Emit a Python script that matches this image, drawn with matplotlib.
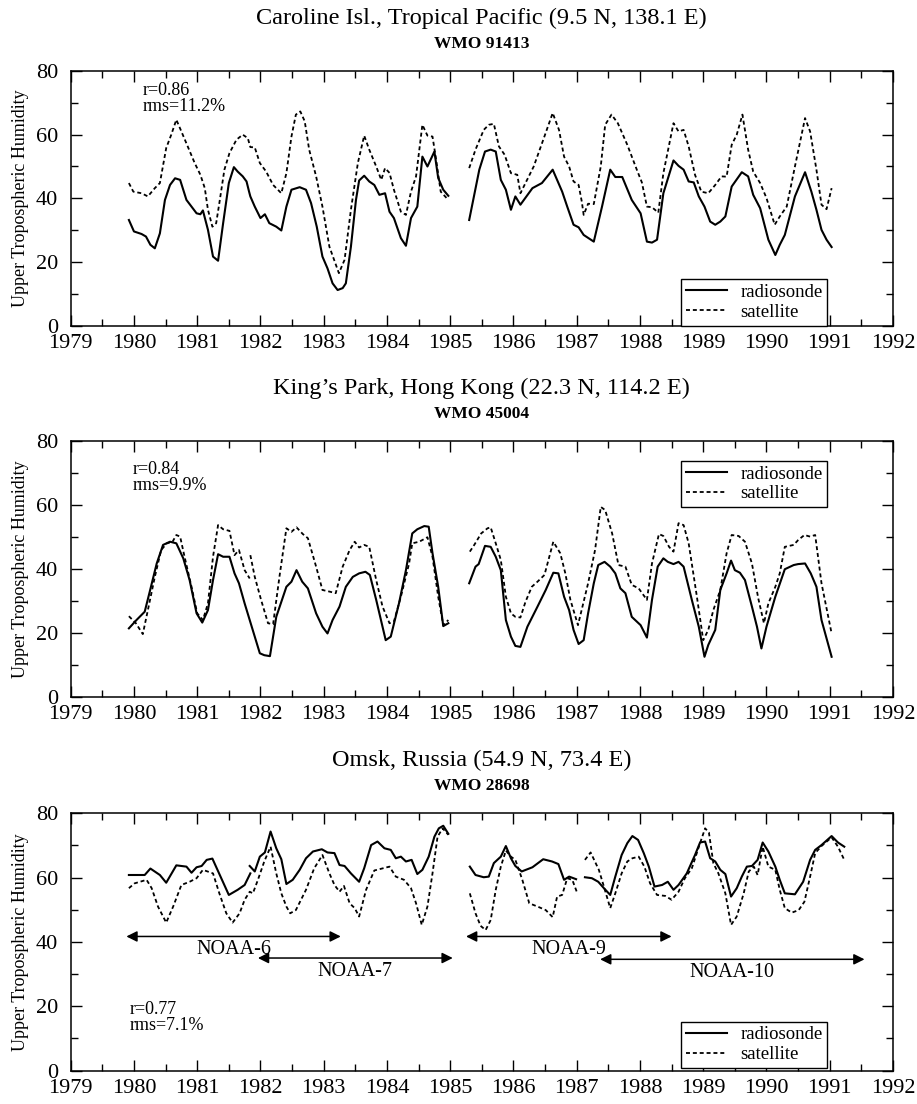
import numpy as np
import matplotlib.pyplot as plt
from matplotlib.ticker import MultipleLocator

plt.rcParams['font.family'] = ['Liberation Serif', 'DejaVu Serif']
nan = np.nan

# ---- Caroline Isl. (WMO 91413) ----
cr_rad_t = [1979.92, 1980.00, 1980.12, 1980.19, 1980.26, 1980.33, 1980.41, 1980.49, 1980.57, 1980.65,
            1980.73, 1980.83, 1980.91, 1980.99, 1981.05, 1981.09, 1981.17, 1981.25, 1981.33, 1981.41,
            1981.50, 1981.58, 1981.64, 1981.72, 1981.78, 1981.82, 1981.84, 1981.91, 1982.00, 1982.07,
            1982.14, 1982.25, 1982.33, 1982.41, 1982.49, 1982.62, 1982.72, 1982.80, 1982.89, 1982.98,
            1983.06, 1983.14, 1983.22, 1983.30, 1983.35, 1983.43, 1983.51, 1983.56, 1983.64, 1983.72,
            1983.80, 1983.88, 1983.97, 1984.04, 1984.11, 1984.22, 1984.30, 1984.38, 1984.48, 1984.56,
            1984.64, 1984.75, 1984.81, 1984.89, 1984.97, 1985.10,
            1985.30, 1985.46, 1985.55, 1985.64, 1985.72, 1985.80, 1985.88, 1985.96, 1986.03, 1986.11,
            1986.30, 1986.45, 1986.62, 1986.77, 1986.85, 1986.95, 1987.03, 1987.11, 1987.27, 1987.40,
            1987.53, 1987.61, 1987.72, 1987.87, 1988.01, 1988.11, 1988.19, 1988.27, 1988.37, 1988.53,
            1988.61, 1988.69, 1988.77, 1988.85, 1988.93, 1989.02, 1989.11, 1989.19, 1989.27, 1989.35,
            1989.45, 1989.61, 1989.71, 1989.79, 1989.90, 1990.03, 1990.14, 1990.21, 1990.29, 1990.45,
            1990.61, 1990.71, 1990.79, 1990.87, 1990.95, 1991.03]
cr_rad_v = [33.2, 29.6, 28.8, 28.0, 25.4, 24.3, 29.0, 39.5, 44.2, 46.3,
            45.8, 39.5, 37.4, 35.3, 35.0, 36.2, 30.1, 21.7, 20.4, 32.2,
            44.8, 49.8, 48.4, 46.9, 45.3, 42.1, 40.6, 37.4, 33.8, 35.0,
            32.2, 31.1, 29.9, 37.4, 42.7, 43.5, 42.7, 38.5, 31.1, 21.7,
            18.0, 13.3, 11.2, 11.8, 13.3, 24.8, 39.5, 45.6, 47.1, 45.3,
            44.2, 41.1, 41.6, 35.8, 33.8, 27.5, 25.1, 33.8, 37.4, 53.1,
            50.0, 54.7, 46.4, 42.7, 40.8, nan,
            33.2, 49.0, 54.7, 55.3, 54.7, 45.8, 42.7, 36.4, 40.6, 38.0,
            43.2, 44.8, 49.0, 42.1, 37.4, 31.7, 30.9, 28.5, 26.4, 37.4,
            49.0, 46.7, 46.7, 39.5, 35.3, 26.4, 26.1, 27.0, 41.6, 51.9,
            50.2, 49.0, 45.3, 45.0, 40.6, 37.4, 32.7, 31.7, 32.7, 34.3,
            43.7, 48.2, 46.9, 41.1, 36.9, 27.0, 22.2, 25.4, 28.5, 40.6,
            48.2, 42.1, 36.4, 30.1, 27.0, 24.7]
cr_sat_t = [1979.92, 1979.99, 1980.12, 1980.22, 1980.33, 1980.41, 1980.51, 1980.59, 1980.67, 1980.75,
            1980.85, 1980.96, 1981.05, 1981.12, 1981.17, 1981.24, 1981.30, 1981.35, 1981.43, 1981.51,
            1981.62, 1981.72, 1981.80, 1981.84, 1981.91, 1981.99, 1982.09, 1982.20, 1982.33, 1982.41,
            1982.49, 1982.56, 1982.63, 1982.70, 1982.77, 1982.88, 1982.98, 1983.09, 1983.24, 1983.33,
            1983.43, 1983.54, 1983.64, 1983.72, 1983.83, 1983.91, 1983.97, 1984.04, 1984.11, 1984.22,
            1984.30, 1984.38, 1984.46, 1984.56, 1984.64, 1984.72, 1984.77, 1984.85, 1984.97, 1985.10,
            1985.30, 1985.40, 1985.53, 1985.61, 1985.69, 1985.77, 1985.86, 1985.96, 1986.06, 1986.11,
            1986.19, 1986.32, 1986.48, 1986.62, 1986.72, 1986.80, 1986.88, 1986.95, 1987.03, 1987.08,
            1987.11, 1987.18, 1987.27, 1987.38, 1987.45, 1987.55, 1987.65, 1987.80, 1987.95, 1988.03,
            1988.11, 1988.19, 1988.29, 1988.37, 1988.53, 1988.61, 1988.69, 1988.77, 1988.87, 1988.97,
            1989.08, 1989.19, 1989.29, 1989.37, 1989.45, 1989.53, 1989.62, 1989.71, 1989.79, 1989.90,
            1990.00, 1990.13, 1990.21, 1990.32, 1990.45, 1990.61, 1990.69, 1990.79, 1990.87, 1990.95,
            1991.03]
cr_sat_v = [44.8, 42.1, 41.6, 40.6, 43.2, 44.8, 55.8, 60.0, 64.7, 61.0,
            56.3, 51.1, 47.4, 43.2, 36.4, 31.1, 32.2, 38.5, 49.0, 54.2,
            58.4, 60.0, 58.9, 56.1, 56.0, 51.1, 48.4, 44.2, 41.6, 47.9,
            59.4, 66.3, 67.3, 64.2, 55.3, 46.9, 37.4, 24.8, 16.5, 20.7,
            36.4, 51.1, 59.7, 55.3, 50.0, 45.8, 49.5, 48.0, 42.7, 35.8,
            34.8, 42.1, 46.9, 63.1, 59.7, 59.4, 53.1, 42.1, 39.5, nan,
            49.5, 55.3, 61.5, 63.1, 63.4, 56.3, 53.7, 47.9, 47.4, 41.6,
            44.8, 50.0, 58.9, 66.8, 61.5, 53.1, 50.0, 45.3, 44.2, 39.0,
            34.8, 38.3, 38.2, 50.0, 63.1, 66.3, 63.6, 56.8, 49.0, 45.0,
            37.4, 37.2, 35.5, 47.9, 63.6, 61.0, 61.5, 56.3, 47.4, 42.1,
            41.6, 44.2, 46.9, 46.8, 56.8, 60.0, 66.3, 55.3, 48.4, 44.8,
            40.1, 31.7, 34.3, 37.4, 50.0, 65.2, 61.0, 49.0, 38.0, 36.6,
            43.2]

# ---- King's Park, Hong Kong (WMO 45004) ----
hk_rad_t = [1979.92, 1980.04, 1980.17, 1980.25, 1980.36, 1980.46, 1980.57, 1980.67, 1980.78, 1980.88,
            1980.99, 1981.08, 1981.17, 1981.25, 1981.33, 1981.41, 1981.51, 1981.59, 1981.66, 1981.75,
            1981.83, 1981.91, 1981.99, 1982.06, 1982.15, 1982.25, 1982.41, 1982.49, 1982.57, 1982.66,
            1982.75, 1982.88, 1982.98, 1983.06, 1983.14, 1983.25, 1983.35, 1983.46, 1983.56, 1983.66,
            1983.73, 1983.83, 1983.98, 1984.06, 1984.19, 1984.30, 1984.40, 1984.48, 1984.59, 1984.66,
            1984.72, 1984.81, 1984.89, 1984.97, 1985.10,
            1985.30, 1985.40, 1985.45, 1985.55, 1985.64, 1985.72, 1985.80, 1985.88, 1985.96, 1986.03,
            1986.11, 1986.22, 1986.38, 1986.51, 1986.63, 1986.71, 1986.80, 1986.88, 1986.95, 1987.03,
            1987.11, 1987.18, 1987.27, 1987.34, 1987.44, 1987.53, 1987.61, 1987.69, 1987.77, 1987.87,
            1988.01, 1988.11, 1988.19, 1988.28, 1988.37, 1988.44, 1988.53, 1988.61, 1988.69, 1988.82,
            1988.93, 1989.02, 1989.08, 1989.19, 1989.27, 1989.37, 1989.44, 1989.50, 1989.58, 1989.66,
            1989.77, 1989.85, 1989.92, 1990.00, 1990.14, 1990.29, 1990.43, 1990.50, 1990.61, 1990.70,
            1990.79, 1990.87, 1991.03]
hk_rad_v = [21.4, 24.0, 26.6, 32.9, 41.7, 47.5, 48.5, 48.0, 43.3, 36.5,
            26.1, 23.2, 27.1, 36.5, 44.6, 43.8, 43.8, 38.6, 35.5, 29.2,
            24.0, 18.8, 13.6, 13.0, 12.7, 25.0, 34.4, 36.0, 39.6, 36.0,
            33.9, 26.1, 21.9, 19.8, 24.0, 28.2, 34.4, 37.5, 38.6, 39.1,
            38.1, 30.3, 17.7, 18.8, 29.2, 39.6, 51.1, 52.4, 53.4, 53.2,
            44.9, 34.4, 22.1, 23.0, nan,
            35.5, 40.7, 41.5, 47.2, 46.9, 43.8, 39.6, 24.0, 18.8, 15.9,
            15.6, 21.9, 28.2, 33.4, 38.8, 38.6, 31.3, 27.1, 20.9, 16.5,
            17.7, 26.1, 35.5, 41.2, 42.2, 40.7, 38.6, 33.9, 32.4, 25.0,
            22.4, 18.5, 30.3, 40.7, 43.3, 42.2, 41.5, 42.2, 40.7, 30.3,
            21.9, 12.5, 16.2, 20.9, 33.4, 38.6, 42.6, 39.6, 38.8, 36.5,
            28.2, 21.9, 15.1, 21.9, 31.3, 39.9, 41.2, 41.5, 41.7, 38.6,
            34.4, 24.0, 12.5]
hk_sat_t = [1979.92, 1980.03, 1980.14, 1980.22, 1980.33, 1980.43, 1980.52, 1980.61, 1980.67, 1980.73,
            1980.80, 1980.91, 1981.00, 1981.09, 1981.17, 1981.25, 1981.33, 1981.41, 1981.51, 1981.59,
            1981.66, 1981.75, 1981.83, 1981.835, 1981.84, 1981.91, 1982.01, 1982.12, 1982.20, 1982.30,
            1982.41, 1982.49, 1982.57, 1982.67, 1982.75, 1982.88, 1982.98, 1983.09, 1983.19, 1983.30,
            1983.41, 1983.49, 1983.56, 1983.64, 1983.72, 1983.83, 1983.93, 1984.04, 1984.11, 1984.22,
            1984.35, 1984.40, 1984.51, 1984.64, 1984.72, 1984.81, 1984.89, 1984.97, 1985.10,
            1985.31, 1985.38, 1985.49, 1985.59, 1985.64, 1985.72, 1985.80, 1985.88, 1985.96, 1986.03,
            1986.11, 1986.19, 1986.29, 1986.38, 1986.49, 1986.63, 1986.74, 1986.82, 1986.90, 1987.02,
            1987.18, 1987.29, 1987.38, 1987.45, 1987.56, 1987.66, 1987.77, 1987.87, 1987.98, 1988.11,
            1988.19, 1988.30, 1988.37, 1988.46, 1988.53, 1988.61, 1988.69, 1988.77, 1988.90, 1989.00,
            1989.08, 1989.16, 1989.27, 1989.37, 1989.45, 1989.56, 1989.66, 1989.77, 1989.87, 1989.96,
            1990.03, 1990.14, 1990.21, 1990.29, 1990.43, 1990.50, 1990.60, 1990.69, 1990.77, 1990.87,
            1991.03]
hk_sat_v = [25.2, 23.0, 19.6, 27.1, 37.5, 45.9, 48.0, 48.5, 50.6, 50.1,
            43.8, 34.4, 26.1, 24.0, 29.2, 43.8, 53.7, 52.4, 51.9, 44.3,
            45.9, 39.6, 37.0, nan, 44.3, 37.5, 30.3, 23.0, 22.7, 37.5,
            52.7, 51.6, 53.0, 50.9, 49.6, 40.7, 33.4, 32.9, 32.4, 40.7,
            45.9, 48.5, 46.7, 47.5, 46.9, 36.5, 28.2, 23.0, 23.5, 31.3,
            41.7, 48.0, 48.5, 49.9, 43.8, 31.3, 22.4, 24.0, nan,
            45.4, 47.5, 51.1, 52.7, 53.0, 48.0, 42.8, 31.3, 26.1, 25.0,
            24.8, 29.7, 34.4, 36.0, 38.1, 48.5, 44.9, 38.6, 30.3, 22.4,
            35.5, 45.9, 59.4, 58.4, 51.1, 41.2, 40.7, 35.0, 33.9, 30.3,
            41.7, 50.9, 50.3, 46.9, 45.4, 54.3, 53.7, 48.0, 31.3, 17.7,
            20.9, 27.1, 33.4, 44.9, 50.6, 50.3, 48.5, 41.7, 30.8, 23.0,
            29.2, 34.4, 38.6, 46.9, 47.5, 49.0, 50.6, 50.1, 50.6, 35.5,
            19.8]

# ---- Omsk, Russia (WMO 28698) ----
om_rad_t = [1979.92, 1980.17, 1980.26, 1980.41, 1980.51, 1980.67, 1980.83, 1980.91, 1980.99, 1981.07,
            1981.15, 1981.24, 1981.50, 1981.64, 1981.75, 1981.84, 1981.835,
            1981.83, 1981.91, 1981.99, 1982.07, 1982.16, 1982.25, 1982.33, 1982.41, 1982.51, 1982.62,
            1982.72, 1982.83, 1982.97, 1983.06, 1983.17, 1983.25, 1983.33, 1983.43, 1983.56, 1983.64,
            1983.75, 1983.85, 1983.96, 1984.06, 1984.14, 1984.22, 1984.30, 1984.39, 1984.48, 1984.56,
            1984.66, 1984.75, 1984.82, 1984.89, 1984.97, 1985.10,
            1985.31, 1985.40, 1985.53, 1985.61, 1985.69, 1985.80, 1985.88, 1985.96, 1986.03, 1986.13,
            1986.30, 1986.47, 1986.61, 1986.71, 1986.80, 1986.88, 1986.99, 1987.06,
            1987.13, 1987.24, 1987.34, 1987.43, 1987.53, 1987.61, 1987.71, 1987.80, 1987.88, 1987.97,
            1988.06, 1988.14, 1988.23, 1988.35, 1988.44, 1988.53, 1988.61, 1988.74, 1988.87, 1988.95,
            1989.03, 1989.11, 1989.19, 1989.27, 1989.35, 1989.44, 1989.53, 1989.61, 1989.69, 1989.77,
            1989.86, 1989.94, 1990.03, 1990.14, 1990.21, 1990.29, 1990.45, 1990.58, 1990.69, 1990.77,
            1990.87, 1991.03, 1991.13, 1991.23]
om_rad_v = [60.8, 60.8, 62.8, 60.8, 58.4, 63.8, 63.4, 61.5, 63.2, 63.6,
            65.5, 65.9, 54.6, 56.2, 57.7, 61.3, nan,
            63.6, 61.9, 66.5, 67.8, 74.3, 69.1, 65.7, 58.0, 59.3, 62.4,
            66.0, 68.1, 68.8, 67.8, 67.6, 63.9, 63.6, 61.3, 58.7, 62.9,
            70.1, 71.2, 69.1, 68.6, 66.0, 66.5, 65.0, 65.5, 61.1, 62.4,
            66.5, 72.7, 75.3, 76.1, 73.6, nan,
            63.4, 60.8, 60.1, 60.3, 64.5, 66.5, 69.8, 66.0, 63.6, 61.9,
            63.2, 65.7, 65.0, 64.2, 59.3, 60.3, 59.5, nan,
            60.1, 59.8, 58.7, 56.7, 54.6, 60.3, 67.0, 70.7, 72.9, 71.7,
            67.6, 63.4, 57.2, 57.7, 58.7, 56.2, 57.7, 61.3, 67.0, 70.9,
            71.2, 66.0, 65.0, 62.4, 61.1, 54.1, 56.7, 60.3, 63.4, 63.6,
            65.5, 70.9, 68.1, 63.4, 59.3, 55.1, 54.8, 58.7, 65.5, 68.6,
            70.1, 72.9, 70.9, 69.6]
om_sat_t = [1979.92, 1980.01, 1980.20, 1980.28, 1980.38, 1980.51, 1980.62, 1980.75, 1980.88, 1980.99,
            1981.09, 1981.25, 1981.35, 1981.46, 1981.56, 1981.67, 1981.75, 1981.83, 1981.88, 1981.96,
            1982.06, 1982.16, 1982.25, 1982.33, 1982.41, 1982.47, 1982.56, 1982.72, 1982.85, 1982.98,
            1983.09, 1983.17, 1983.25, 1983.32, 1983.41, 1983.49, 1983.56, 1983.67, 1983.80, 1984.04,
            1984.14, 1984.27, 1984.38, 1984.46, 1984.55, 1984.64, 1984.72, 1984.80, 1984.88, 1984.97,
            1985.10,
            1985.31, 1985.40, 1985.48, 1985.56, 1985.64, 1985.72, 1985.80, 1985.88, 1985.96, 1986.03,
            1986.14, 1986.25, 1986.38, 1986.51, 1986.62, 1986.69, 1986.77, 1986.85, 1986.93, 1987.01,
            1987.06,
            1987.13, 1987.22, 1987.35, 1987.43, 1987.53, 1987.61, 1987.71, 1987.80, 1987.88, 1987.98,
            1988.07, 1988.16, 1988.27, 1988.40, 1988.50, 1988.61, 1988.71, 1988.82, 1988.95, 1989.03,
            1989.09, 1989.16, 1989.24, 1989.35, 1989.44, 1989.53, 1989.64, 1989.72, 1989.80, 1989.86,
            1989.94, 1990.03, 1990.14, 1990.21, 1990.29, 1990.40, 1990.51, 1990.60, 1990.69, 1990.77,
            1990.87, 1991.03, 1991.13, 1991.23]
om_sat_v = [56.7, 58.2, 59.3, 56.7, 51.0, 46.0, 51.0, 57.7, 58.7, 59.8,
            62.4, 61.3, 55.1, 48.9, 46.0, 48.9, 53.1, 55.6, 55.1, 59.3,
            65.0, 69.6, 61.3, 55.1, 51.0, 48.9, 49.9, 56.2, 62.9, 67.0,
            61.3, 57.7, 55.6, 57.4, 52.0, 50.5, 47.9, 56.2, 62.2, 63.4,
            60.3, 59.3, 56.7, 52.0, 45.3, 51.0, 61.3, 72.7, 75.3, 73.3,
            nan,
            55.1, 48.9, 45.0, 43.7, 46.8, 56.2, 63.4, 68.4, 66.5, 65.5,
            59.3, 52.0, 51.0, 49.9, 47.7, 54.1, 54.6, 59.8, 59.3, 55.1,
            nan,
            65.5, 67.8, 62.4, 57.2, 50.5, 55.1, 61.3, 65.0, 66.0, 66.5,
            63.4, 58.2, 54.6, 54.3, 53.1, 55.6, 59.8, 62.9, 70.7, 75.3,
            74.0, 64.5, 61.3, 55.1, 45.3, 47.9, 55.1, 61.9, 63.4, 60.8,
            69.6, 63.4, 62.4, 56.2, 50.5, 49.1, 49.9, 52.5, 60.3, 67.6,
            69.8, 72.5, 69.6, 65.5]

# satellite periods for Omsk
noaa_names = ["NOAA-6", "NOAA-7", "NOAA-9", "NOAA-10"]
noaa_start = [1979.88, 1981.96, 1985.25, 1987.37]
noaa_end = [1983.27, 1985.04, 1988.50, 1991.55]
noaa_level = [41.7, 35.0, 41.7, 34.6]

titles = ["Caroline Isl., Tropical Pacific (9.5 N, 138.1 E)",
          "King\u2019s Park, Hong Kong (22.3 N, 114.2 E)",
          "Omsk, Russia (54.9 N, 73.4 E)"]
wmo = ["WMO 91413", "WMO 45004", "WMO 28698"]
stats = ["r=0.86\nrms=11.2%", "r=0.84\nrms=9.9%", "r=0.77\nrms=7.1%"]

series = [(cr_rad_t, cr_rad_v, cr_sat_t, cr_sat_v),
          (hk_rad_t, hk_rad_v, hk_sat_t, hk_sat_v),
          (om_rad_t, om_rad_v, om_sat_t, om_sat_v)]

fig = plt.figure(figsize=(9.17, 11.04), dpi=100)
rects = [[0.0771, 0.7050, 0.8967, 0.2307],
         [0.0771, 0.3689, 0.8967, 0.2316],
         [0.0771, 0.0302, 0.8967, 0.2332]]
stat_pos = [(1980.14, 76.5), (1979.98, 73.8), (1979.94, 21.5)]
leg_loc = [("lower right", (0.92, 0.0)), ("upper right", (0.92, 0.923)),
           ("lower right", (0.92, 0.01))]

for i, rect in enumerate(rects):
    ax = fig.add_axes(rect)
    rt, rv, st, sv = series[i]
    ax.plot(rt, rv, color="black", lw=1.5, label="radiosonde")
    ax.plot(st, sv, color="black", lw=1.3, linestyle=(0, (2.2, 1.6)), label="satellite")

    ax.set_xlim(1979, 1992)
    ax.set_ylim(0, 80)
    ax.xaxis.set_major_locator(MultipleLocator(1))
    ax.xaxis.set_minor_locator(MultipleLocator(0.5))
    ax.yaxis.set_major_locator(MultipleLocator(20))
    ax.yaxis.set_minor_locator(MultipleLocator(10))
    ax.tick_params(which="both", direction="in", top=True, right=True, labelsize=16)
    ax.tick_params(axis="x", which="major", pad=6)
    ax.tick_params(axis="y", which="major", pad=9)
    ax.tick_params(which="major", length=8, width=1)
    ax.tick_params(which="minor", length=5, width=1)
    for sp in ax.spines.values():
        sp.set_linewidth(1.1)
    ax.set_ylabel("Upper Tropospheric Humidity", fontsize=13, labelpad=5)

    ax.text(0.5, 1.205, titles[i], transform=ax.transAxes, ha="center", va="center", fontsize=17.5)
    ax.text(0.5, 1.105, wmo[i], transform=ax.transAxes, ha="center", va="center", fontsize=12.5,
            fontweight="bold")
    ax.text(stat_pos[i][0], stat_pos[i][1], stats[i], ha="left", va="top", fontsize=13,
            linespacing=0.9)

    loc, anchor = leg_loc[i]
    leg = ax.legend(loc=loc, bbox_to_anchor=anchor, fontsize=13.5, frameon=True, fancybox=False,
                    edgecolor="black", framealpha=1, borderaxespad=0, handlelength=2.2,
                    borderpad=0.25, labelspacing=0.15, handletextpad=0.7)
    leg.get_frame().set_linewidth(1.0)

    if i == 2:
        for name, a, b, lev in zip(noaa_names, noaa_start, noaa_end, noaa_level):
            ax.annotate("", xy=(a, lev), xytext=(b, lev),
                        arrowprops=dict(arrowstyle="<|-|>", color="black", lw=1.1,
                                        mutation_scale=16, shrinkA=0, shrinkB=0))
            ax.text((a + b) / 2, lev - 1.2, name, ha="center", va="top", fontsize=14.5)

fig.savefig("out.png", dpi=100)
